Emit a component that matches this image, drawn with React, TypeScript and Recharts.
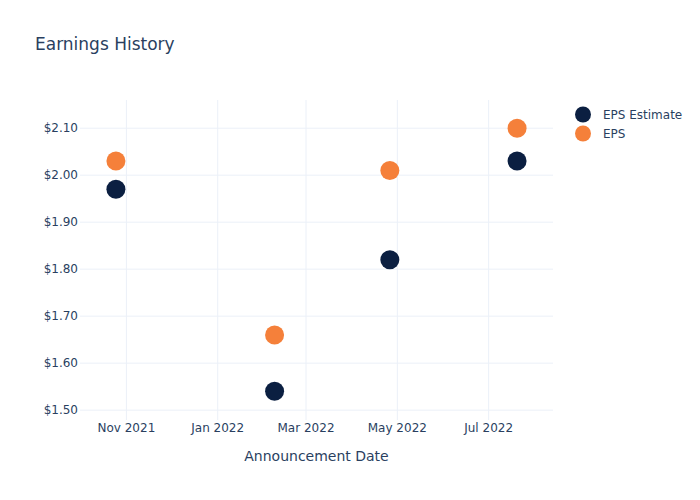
import { ScatterChart, Scatter, XAxis, YAxis, CartesianGrid } from 'recharts';

const announceDates = ['2021-10-25', '2022-02-08', '2022-04-26', '2022-07-20'];
const epsEstimate = [1.97, 1.54, 1.82, 2.03];
const epsActual = [2.03, 1.66, 2.01, 2.1];
const xTickDates = ['2021-11-01', '2022-01-01', '2022-03-01', '2022-05-01', '2022-07-01'];
const yTicks = [1.5, 1.6, 1.7, 1.8, 1.9, 2.0, 2.1];

const NAVY = '#0b1f41';
const ORANGE = '#f5803a';
const TEXT = '#2a3f5f';
const FONT = '"DejaVu Sans", Verdana, sans-serif';
const MONTHS = ['Jan', 'Feb', 'Mar', 'Apr', 'May', 'Jun', 'Jul', 'Aug', 'Sep', 'Oct', 'Nov', 'Dec'];

const ts = (d: string) => Date.parse(d + 'T00:00:00Z');

const estimateData = announceDates.map((d, i) => ({ x: ts(d), y: epsEstimate[i] }));
const actualData = announceDates.map((d, i) => ({ x: ts(d), y: epsActual[i] }));
const xTicks = xTickDates.map(ts);

const fmtDate = (v: number) => {
  const d = new Date(v);
  return `${MONTHS[d.getUTCMonth()]} ${d.getUTCFullYear()}`;
};

const dot = (color: string) => (props: any) => (
  <circle cx={props.cx} cy={props.cy} r={9.5} fill={color} />
);

const legendItems = [
  { name: 'EPS Estimate', color: NAVY },
  { name: 'EPS', color: ORANGE },
];

export default function App() {
  return (
    <div style={{ position: 'absolute', left: 0, top: 0, width: 700, height: 500, background: '#fff' }}>
      <div style={{ position: 'absolute', left: 35, top: 34, fontFamily: FONT, fontSize: 17, color: TEXT }}>
        Earnings History
      </div>
      <ScatterChart width={700} height={500} margin={{ top: 100, right: 147, bottom: 0, left: 0 }}>
        <CartesianGrid stroke="#ebf0f8" strokeWidth={1} verticalValues={xTicks} horizontalValues={yTicks} />
        <XAxis
          type="number"
          dataKey="x"
          domain={[ts('2021-10-01'), ts('2022-08-13')]}
          ticks={xTicks}
          tickFormatter={fmtDate}
          axisLine={false}
          tickLine={false}
          tickSize={0}
          tickMargin={3}
          height={80}
          tick={{ fill: TEXT, fontSize: 12, fontFamily: FONT }}
          allowDataOverflow
        />
        <YAxis
          type="number"
          dataKey="y"
          domain={[1.479, 2.16]}
          ticks={yTicks}
          tickFormatter={(v: number) => `$${v.toFixed(2)}`}
          axisLine={false}
          tickLine={false}
          tickSize={0}
          tickMargin={2}
          width={80}
          tick={{ fill: TEXT, fontSize: 12, fontFamily: FONT }}
          allowDataOverflow
        />
        <Scatter name="EPS Estimate" data={estimateData} fill={NAVY} shape={dot(NAVY)} isAnimationActive={false} />
        <Scatter name="EPS" data={actualData} fill={ORANGE} shape={dot(ORANGE)} isAnimationActive={false} />
      </ScatterChart>
      <div style={{ position: 'absolute', left: 573, top: 105, fontFamily: FONT, fontSize: 12, color: TEXT }}>
        {legendItems.map((it) => (
          <div key={it.name} style={{ display: 'flex', alignItems: 'center', height: 19 }}>
            <svg width={20} height={19}>
              <circle cx={10} cy={9.5} r={8} fill={it.color} />
            </svg>
            <span style={{ marginLeft: 10 }}>{it.name}</span>
          </div>
        ))}
      </div>
      <div
        style={{
          position: 'absolute',
          left: 80,
          width: 473,
          top: 448,
          textAlign: 'center',
          fontFamily: FONT,
          fontSize: 14,
          color: TEXT,
        }}
      >
        Announcement Date
      </div>
    </div>
  );
}
